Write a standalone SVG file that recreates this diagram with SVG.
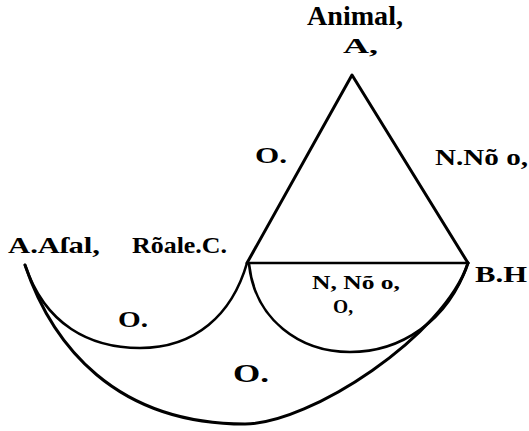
<svg xmlns="http://www.w3.org/2000/svg" width="529" height="431" viewBox="0 0 529 431">
<style>
.ln{fill:none;stroke:#000;stroke-width:2.6;stroke-linecap:round;stroke-linejoin:round}
.tx{font-family:"Liberation Serif","DejaVu Serif",serif;fill:#000;font-weight:bold}
</style>
<rect width="529" height="431" fill="#fff"/>
<g id="connectors">
<path class="ln" d="M247,263 L352,75 L468,263" style="stroke-width:3"/>
<path class="ln" d="M249,263 L468,263"/>
<path class="ln" d="M249,264 C255,320 300,352 350,352 C400,352 448,322 468,263"/>
<path class="ln" d="M25,265 C45,325 90,348 140,348 C195,348 232,315 247,263"/>
<path class="ln" d="M25,265 C52,345 115,424 245,424 C310,424 445,335 468,263" style="stroke-width:3"/>
</g>
<g id="node-animal">
<text class="tx" x="307" y="25" font-size="27" textLength="96" lengthAdjust="spacingAndGlyphs">Animal,</text>
<text class="tx" x="343" y="53" font-size="22" textLength="35" lengthAdjust="spacingAndGlyphs">A,</text>
</g>
<g id="label-o-upper">
<text class="tx" x="255" y="163" font-size="24" textLength="32" lengthAdjust="spacingAndGlyphs">O.</text>
</g>
<g id="label-nno-upper">
<text class="tx" x="435" y="165" font-size="24" textLength="93" lengthAdjust="spacingAndGlyphs">N.Nõ o,</text>
</g>
<g id="node-aafal">
<text class="tx" x="8" y="253" font-size="24" textLength="92" lengthAdjust="spacingAndGlyphs">A.Aſal,</text>
</g>
<g id="node-roale">
<text class="tx" x="132" y="253" font-size="24" textLength="95" lengthAdjust="spacingAndGlyphs">Rõale.C.</text>
</g>
<g id="node-bh">
<text class="tx" x="475" y="282" font-size="24" textLength="52" lengthAdjust="spacingAndGlyphs">B.H</text>
</g>
<g id="label-nno-inner">
<text class="tx" x="312" y="289" font-size="19" textLength="88" lengthAdjust="spacingAndGlyphs">N, Nõ o,</text>
<text class="tx" x="333" y="313" font-size="19" textLength="20" lengthAdjust="spacingAndGlyphs">O,</text>
</g>
<g id="label-o-left">
<text class="tx" x="118" y="327" font-size="24" textLength="30" lengthAdjust="spacingAndGlyphs">O.</text>
</g>
<g id="label-o-bottom">
<text class="tx" x="233" y="382" font-size="26" textLength="36" lengthAdjust="spacingAndGlyphs">O.</text>
</g>
</svg>
